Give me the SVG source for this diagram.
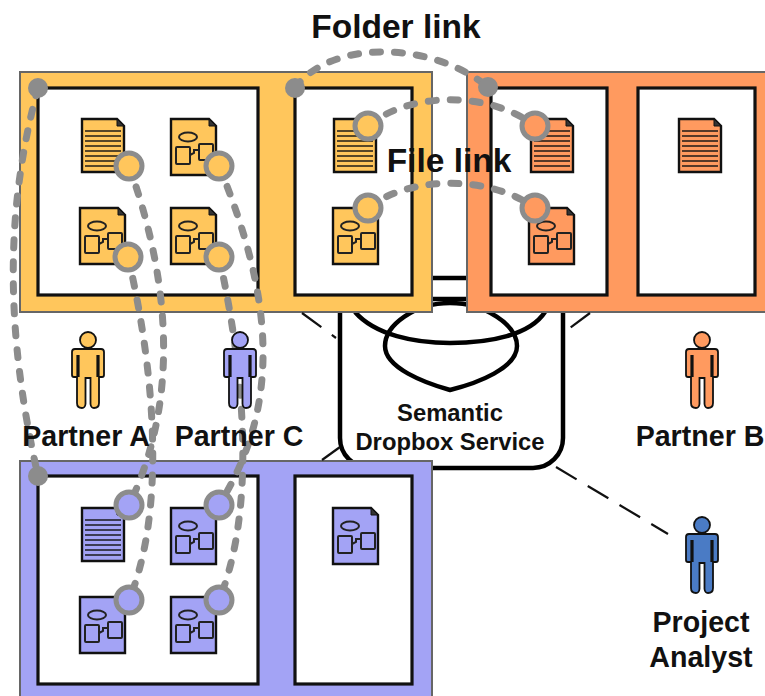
<svg xmlns="http://www.w3.org/2000/svg" xmlns:xlink="http://www.w3.org/1999/xlink" width="765" height="696" viewBox="0 0 765 696">
<style>
text{font-family:"Liberation Sans",Arial,sans-serif;font-weight:bold;fill:#111;text-anchor:middle}
.big{font-size:33.500px}.lab{font-size:28.600px}.svc{font-size:23.800px}
.panel{stroke:#666;stroke-width:2}
.inner{fill:#fff;stroke:#111;stroke-width:3.200}
.y{fill:#FFC65C}.o{fill:#FF9A5F}.p{fill:#A3A3F5}.b{fill:#4A7BC5}
.line{fill:none;stroke:#000;stroke-width:4.500}
.link{fill:none;stroke:#8c8c8c;stroke-width:7;stroke-linecap:round;stroke-dasharray:8 14}
.thin{fill:none;stroke:#111;stroke-width:2.200;stroke-dasharray:24 13}
.end{stroke:#8c8c8c;stroke-width:5}
.dot{fill:#8c8c8c}
.docb{stroke:#111;stroke-width:2.400}
.rule{stroke:#111;stroke-width:2;opacity:.7}
.sh{fill:none;stroke:#222;stroke-width:2}
.man{stroke:#111;stroke-width:1.800}
.manl{stroke:#111;stroke-width:3.200;fill:none}
</style>
<defs>
<g id="textdoc">
<path class="docb" d="M0,0H35L42,7V53H0Z"/>
<path d="M35,0V7H42Z" fill="#333" stroke="#111" stroke-width="1"/>
<path class="rule" d="M3,12H39M3,17H39M3,22H39M3,27H39M3,32H39M3,37H39M3,42H39M3,47H39"/>
</g>
<g id="diadoc">
<path class="docb" d="M0,0H38L45,7V56H0Z"/>
<path d="M38,0V7H45Z" fill="#333" stroke="#111" stroke-width="1"/>
<ellipse class="sh" cx="17" cy="18" rx="9" ry="4.500"/>
<rect class="sh" x="5" y="28" width="14" height="17" rx="1"/>
<rect class="sh" x="28" y="25" width="14" height="16" rx="1"/>
<path class="sh" d="M19,36L23,34V31H28"/>
</g>
<g id="person">
<circle class="man" cx="0" cy="0" r="8"/>
<path class="man" d="M-13,9H13Q16,9 16,12V35Q16,37 14,37H11V63Q11,68 6,68Q3,68 2.500,64V38H-2.500V64Q-3,68 -6,68Q-11,68 -11,63V37H-14Q-16,37 -16,35V12Q-16,9 -13,9Z"/>
<path class="manl" d="M-10,15V37M10,15V37"/>
</g>
</defs>
<rect width="765" height="696" fill="#fff"/>

<g id="service">
<rect class="line" x="340" y="278" width="223" height="190" rx="30" fill="#fff"/>
<path class="line" d="M355,312C375,335 415,343 450,343C490,343 530,335 545,312"/>
<path class="line" d="M432,299H467"/>
<path class="line" d="M450,303C415,303 385,325 385,346C385,368 425,383 450,390C478,383 517,368 517,346C517,325 485,303 450,303Z"/>
<text class="svc" x="450" y="421">Semantic</text>
<text class="svc" x="450" y="450">Dropbox Service</text>
</g>

<g id="partner-a-folder">
<rect class="panel y" x="20" y="72" width="412" height="240"/>
<rect class="inner" x="38" y="88" width="220" height="207"/>
<rect class="inner" x="295" y="88" width="117" height="207"/>
<use class="y" xlink:href="#textdoc" href="#textdoc" x="82" y="119"/>
<use class="y" xlink:href="#diadoc" href="#diadoc" x="171" y="119"/>
<use class="y" xlink:href="#diadoc" href="#diadoc" x="80" y="208"/>
<use class="y" xlink:href="#diadoc" href="#diadoc" x="171" y="208"/>
<use class="y" xlink:href="#textdoc" href="#textdoc" x="334" y="119"/>
<use class="y" xlink:href="#diadoc" href="#diadoc" x="333" y="208"/>
</g>
<g id="partner-b-folder">
<rect class="panel o" x="467" y="72" width="310" height="240"/>
<rect class="inner" x="491" y="88" width="116" height="207"/>
<rect class="inner" x="638" y="88" width="117" height="207"/>
<use class="o" xlink:href="#textdoc" href="#textdoc" x="531" y="119"/>
<use class="o" xlink:href="#diadoc" href="#diadoc" x="529" y="208"/>
<use class="o" xlink:href="#textdoc" href="#textdoc" x="679" y="119"/>
</g>
<g id="partner-c-folder">
<rect class="panel p" x="20" y="461" width="412" height="245"/>
<rect class="inner" x="38" y="476" width="220" height="208"/>
<rect class="inner" x="295" y="476" width="117" height="208"/>
<use class="p" xlink:href="#textdoc" href="#textdoc" x="82" y="508"/>
<use class="p" xlink:href="#diadoc" href="#diadoc" x="171" y="508"/>
<use class="p" xlink:href="#diadoc" href="#diadoc" x="80" y="597"/>
<use class="p" xlink:href="#diadoc" href="#diadoc" x="171" y="597"/>
<use class="p" xlink:href="#diadoc" href="#diadoc" x="333" y="508"/>
</g>

<g id="connectors">
<path class="thin" d="M302,313L336,338"/>
<path class="thin" d="M590,313L563,333"/>
<path class="thin" d="M322,460L340,447" stroke-dasharray="6 10"/>
<path class="thin" d="M556,467L668,534"/>
<path class="link" d="M38,88C5,210 5,330 38,476"/>
<path class="link" d="M129,166C170,280 180,400 129,505"/>
<path class="link" d="M128,257C150,350 170,500 129,600"/>
<path class="link" d="M219,166C270,290 285,400 219,505"/>
<path class="link" d="M219,257C240,350 260,500 219,600"/>
<path class="link" d="M295,88C330,40 430,40 488,87"/>
<path class="link" d="M368,126C410,91 490,91 535,126"/>
<path class="link" d="M368,208C410,175 490,175 535,208"/>
</g>

<g id="link-ends">
<circle class="dot" cx="38" cy="88" r="10"/>
<circle class="dot" cx="295" cy="88" r="10"/>
<circle class="dot" cx="488" cy="87" r="10"/>
<circle class="dot" cx="38" cy="476" r="10"/>
<circle class="end y" cx="129" cy="166" r="13"/>
<circle class="end y" cx="219" cy="166" r="13"/>
<circle class="end y" cx="128" cy="257" r="13"/>
<circle class="end y" cx="219" cy="257" r="13"/>
<circle class="end y" cx="368" cy="126" r="13"/>
<circle class="end y" cx="368" cy="208" r="13"/>
<circle class="end o" cx="535" cy="126" r="13"/>
<circle class="end o" cx="535" cy="208" r="13"/>
<circle class="end p" cx="129" cy="505" r="13"/>
<circle class="end p" cx="219" cy="505" r="13"/>
<circle class="end p" cx="129" cy="600" r="13"/>
<circle class="end p" cx="219" cy="600" r="13"/>
</g>

<g id="partner-a"><use class="y" xlink:href="#person" href="#person" x="88" y="340"/><text class="lab" x="86" y="446">Partner A</text></g>
<g id="partner-c"><use class="p" xlink:href="#person" href="#person" x="240" y="340"/><text class="lab" x="239" y="446">Partner C</text></g>
<g id="partner-b"><use class="o" xlink:href="#person" href="#person" x="702" y="340"/><text class="lab" x="700" y="446">Partner B</text></g>
<g id="project-analyst"><use class="b" xlink:href="#person" href="#person" x="702" y="525"/><text class="lab" x="701" y="632">Project</text><text class="lab" x="701" y="667">Analyst</text></g>

<text id="folder-link" class="big" x="396" y="38">Folder link</text>
<text id="file-link" class="big" x="449" y="172">File link</text>
</svg>
